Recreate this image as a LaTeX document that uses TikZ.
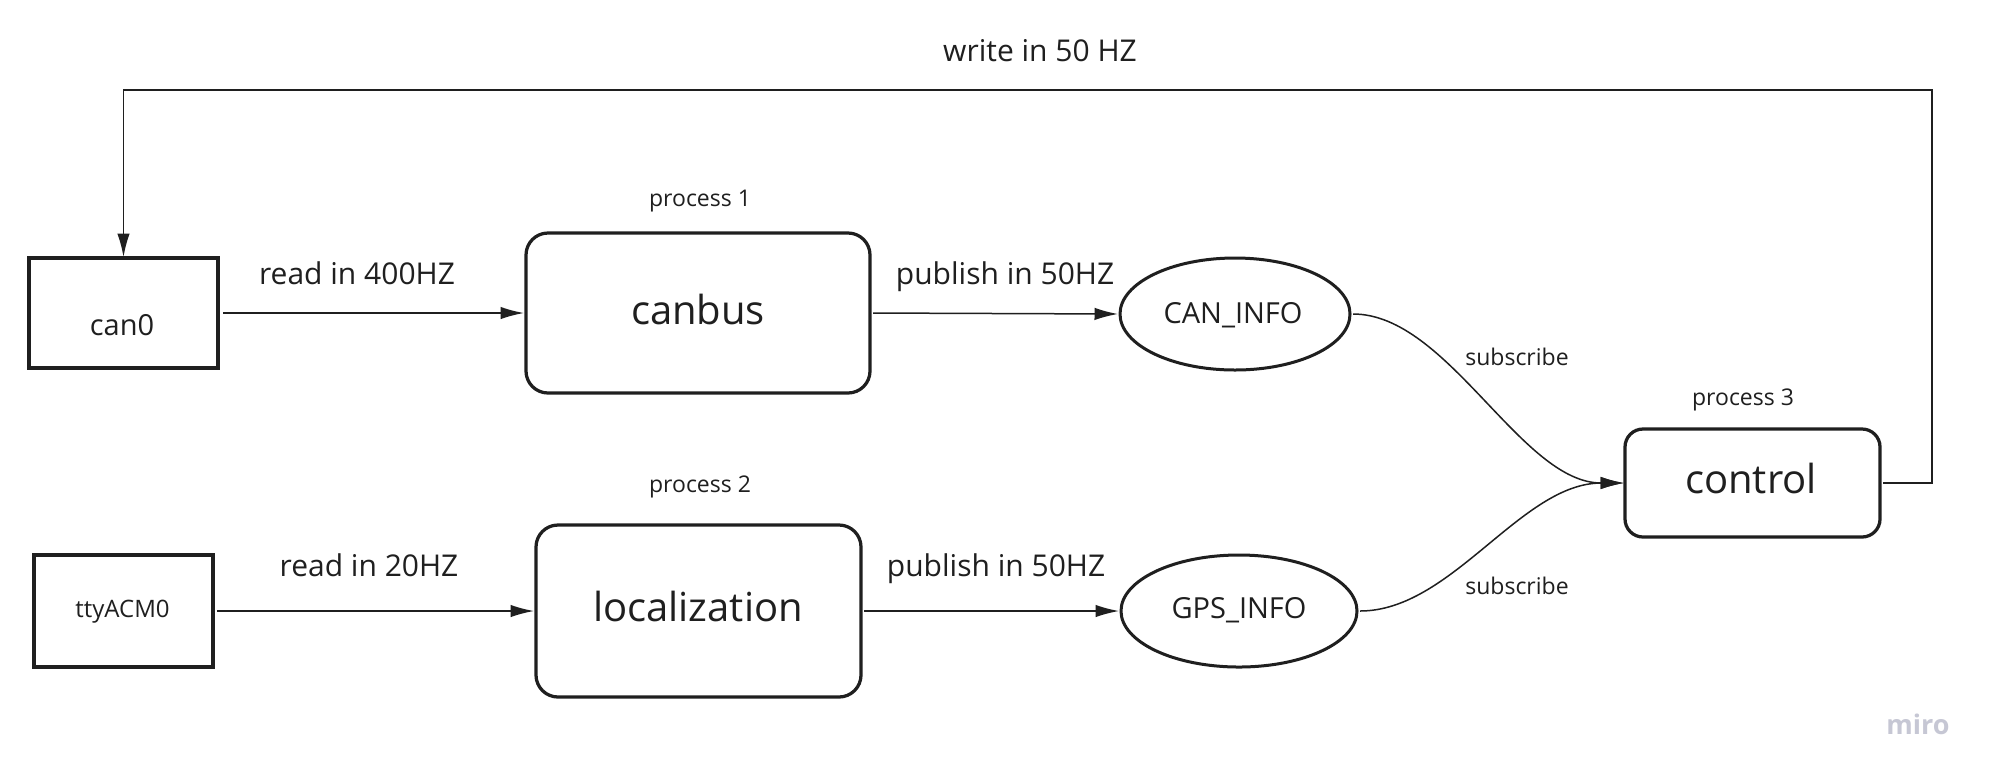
\documentclass[tikz,border=0pt]{standalone}
\usepackage{fontspec}
\setmainfont{Open Sans}
\usetikzlibrary{arrows.meta,shapes.geometric}
\definecolor{ink}{HTML}{1F1F1F}
\definecolor{mirogray}{HTML}{C6C7D4}
\begin{document}
\begin{tikzpicture}[x=0.4pt,y=-0.4pt,
  box/.style={draw=ink,line width=1.3pt,rectangle,inner sep=0pt,outer sep=0pt},
  pbox/.style={box,rounded corners=8.8pt},
  oval/.style={draw=ink,line width=1.2pt,ellipse,inner sep=0pt,outer sep=0pt},
  conn/.style={draw=ink,line width=0.6pt,-{Latex[length=9.4pt,width=5pt]}},
  lbl/.style={anchor=base,inner sep=0pt,text=ink,font=\fontsize{12pt}{14pt}\selectfont},
  big/.style={anchor=base,inner sep=0pt,text=ink,font=\fontsize{16pt}{19pt}\selectfont},
  mid/.style={anchor=base,inner sep=0pt,text=ink,font=\fontsize{11.6pt}{14pt}\selectfont},
  small/.style={anchor=base,inner sep=0pt,text=ink,font=\fontsize{9.2pt}{11pt}\selectfont}
]
\fill[white] (0,0) rectangle (1997,782);
\useasboundingbox (0,0) rectangle (1997,782);

% boxes
\node[box,minimum width=75.6pt,minimum height=44pt] (can0) at (123.5,313) {};
\node[mid] (can0t) at (122,335) {can0};
\node[box,minimum width=71.6pt,minimum height=44.8pt] (tty) at (123.5,611) {};
\node[small,font=\fontsize{9.6pt}{11pt}\selectfont] (ttyt) at (122.5,617) {ttyACM0};

\node[pbox,minimum width=137.6pt,minimum height=64pt] (canbus) at (698,313) {};
\node[big] (canbust) at (698,324) {canbus};
\node[pbox,minimum width=130pt,minimum height=68.8pt] (loc) at (698.5,611) {};
\node[big] (loct) at (698,621) {localization};
\node[box,rounded corners=7.2pt,minimum width=102pt,minimum height=43.2pt] (control) at (1752.5,483) {};
\node[big] (controlt) at (1751,493) {control};

\node[oval,minimum width=92pt,minimum height=44.8pt] (caninfo) at (1235,314) {};
\node[mid] (caninfot) at (1233,323) {CAN\_INFO};
\node[oval,minimum width=94.4pt,minimum height=44.8pt] (gpsinfo) at (1239,611) {};
\node[mid] (gpsinfot) at (1239,618) {GPS\_INFO};

% labels
\node[lbl] (write) at (1040,61) {write in 50 HZ};
\node[lbl] (read1) at (357,284) {read in 400HZ};
\node[lbl] (read2) at (369,576) {read in 20HZ};
\node[lbl] (pub1) at (1005,284) {publish in 50HZ};
\node[lbl] (pub2) at (996,576) {publish in 50HZ};
\node[small] (p1) at (700,206) {process 1};
\node[small] (p2) at (700,492) {process 2};
\node[small] (p3) at (1743,405) {process 3};
\node[small] (sub1) at (1517,365) {subscribe};
\node[small] (sub2) at (1517,594) {subscribe};
\node[anchor=base,inner sep=0pt,text=mirogray,font=\fontsize{10.8pt}{13pt}\selectfont\bfseries] (miro) at (1918,734) {miro};

% connectors
\draw[conn,shorten <=2pt,shorten >=0.8pt] (can0.east) -- (canbus.west);
\draw[conn,shorten <=1.5pt,shorten >=0.8pt] (tty.east) -- (loc.west);
\draw[conn,shorten <=1.2pt,shorten >=0.8pt] (canbus.east) -- (caninfo.west);
\draw[conn,shorten <=1.2pt,shorten >=0.8pt] (loc.east) -- (gpsinfo.west);
\draw[conn,shorten <=1.2pt,shorten >=0.4pt] (caninfo.east) .. controls +(98,0) and +(-104,0) .. (control.west);
\draw[conn,shorten <=1.2pt,shorten >=0.4pt] (gpsinfo.east) .. controls +(95,0) and +(-104,0) .. (control.west);

\coordinate (fbR) at (1932,483);
\coordinate (fbTR) at (1932,90);
\coordinate (fbTL) at (123.5,90);
\draw[conn,shorten <=1.2pt,shorten >=0.4pt] (control.east) -- (fbR) -- (fbTR) -- (fbTL) -- (can0.north);
\end{tikzpicture}
\end{document}
